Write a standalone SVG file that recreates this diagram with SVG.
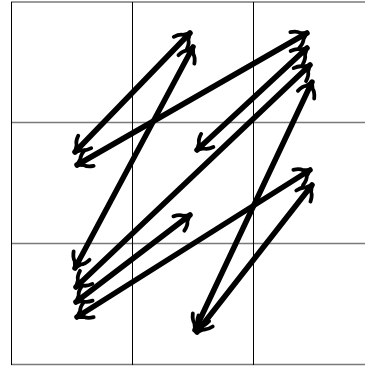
<svg xmlns="http://www.w3.org/2000/svg" width="365" height="366" viewBox="0 0 365 366">
<style>
.h{stroke:#7a7a7a;stroke-width:1.6;fill:none}
.v{stroke:#000;stroke-width:1;fill:none}
.e{stroke:#000;stroke-width:5.5;stroke-linecap:round;fill:none;marker-start:url(#ah);marker-end:url(#ah)}
</style>
<defs>
<marker id="ah" markerUnits="userSpaceOnUse" markerWidth="34" markerHeight="34" refX="0" refY="0" viewBox="-17 -17 34 34" orient="auto-start-reverse" overflow="visible">
<path d="M-14,-9 Q-8,-7 -6,-3.5 Q-2,-1 0,0 M-14,9 Q-8,7 -6,3.5 Q-2,1 0,0" stroke="#000" stroke-width="3.8" stroke-linecap="round" stroke-linejoin="round" fill="none"/>
</marker>
</defs>
<g id="grid">
<line class="h" x1="11" y1="2" x2="365" y2="2"/>
<line class="h" x1="11" y1="122.5" x2="365" y2="122.5"/>
<line class="h" x1="11" y1="243.5" x2="365" y2="243.5"/>
<line class="h" x1="11" y1="364.5" x2="365" y2="364.5"/>
<line class="v" x1="11.5" y1="2" x2="11.5" y2="365"/>
<line class="v" x1="132.5" y1="2" x2="132.5" y2="365"/>
<line class="v" x1="253.5" y1="2" x2="253.5" y2="365"/>
</g>
<g id="connectors">
<line class="e" x1="75" y1="152" x2="190" y2="33"/>
<line class="e" x1="77" y1="165" x2="307" y2="33"/>
<line class="e" x1="75" y1="268" x2="193" y2="47"/>
<line class="e" x1="197" y1="150" x2="307" y2="48"/>
<line class="e" x1="76" y1="287" x2="310" y2="65"/>
<line class="e" x1="195" y1="330" x2="312" y2="82"/>
<line class="e" x1="76" y1="302" x2="190" y2="215"/>
<line class="e" x1="77" y1="317" x2="310" y2="170"/>
<line class="e" x1="197" y1="332" x2="312" y2="185"/>
</g>
</svg>
